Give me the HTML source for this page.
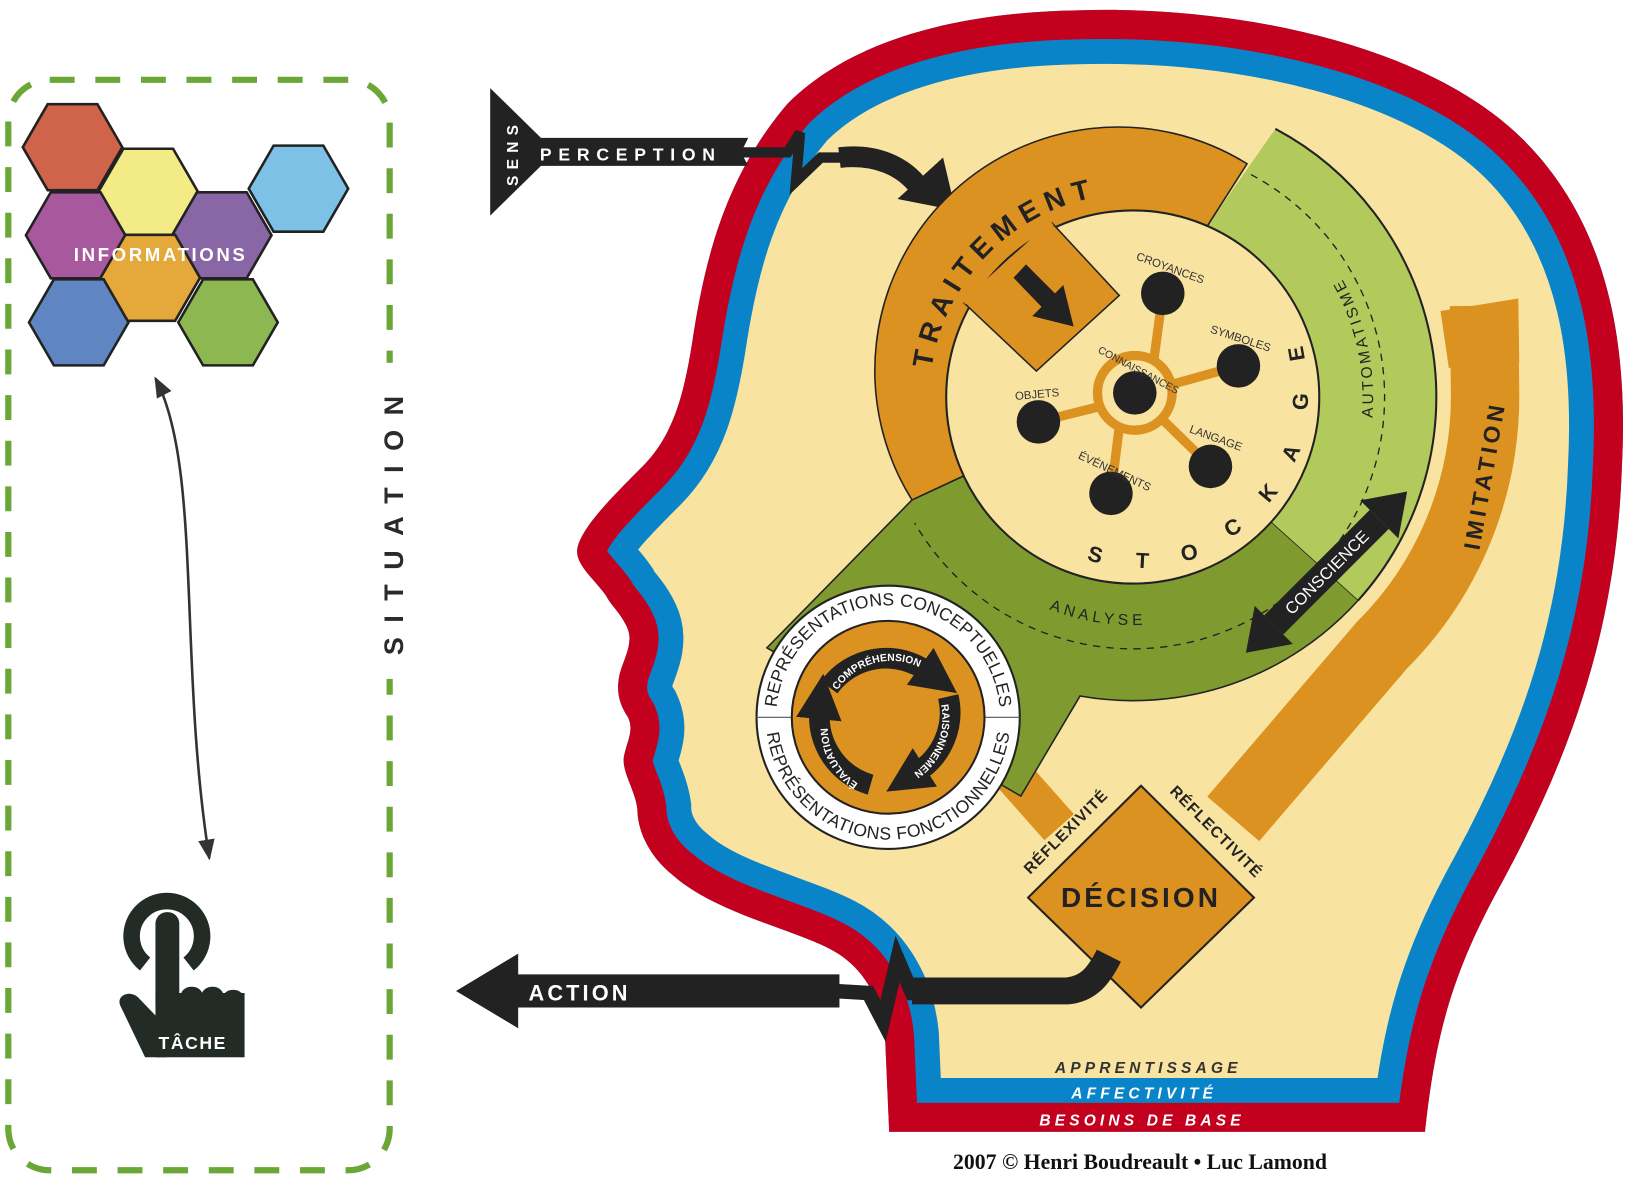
<!DOCTYPE html>
<html><head><meta charset="utf-8">
<style>
html,body{margin:0;padding:0;background:#fff;}
svg{display:block;}
text{font-family:"Liberation Sans","DejaVu Sans",sans-serif;}
</style></head>
<body>
<svg width="1625" height="1191" viewBox="0 0 1568 1149" preserveAspectRatio="none" xmlns="http://www.w3.org/2000/svg">
<defs>
<clipPath id="head"><path id="hp" d="M858,1092 L854,1000 C850,960 830,930 800,915 C760,895 690,880 650,845 C625,825 615,800 615,780 C612,760 600,745 602,730 C605,715 612,705 606,692 C598,680 594,668 598,650 C602,635 612,620 605,605 C598,590 590,585 585,575 C575,560 555,545 557,530 C560,510 590,480 620,450 C650,420 660,380 668,330 C680,250 700,170 760,100 C820,40 920,12 1040,10 C1200,5 1380,45 1470,135 C1560,225 1570,350 1565,450 C1560,600 1520,720 1450,850 C1400,940 1385,1000 1375,1092 Z"/></clipPath>
<path id="trait" d="M898.9,355.7 A196 196 0 0 1 1127,190"/>
<path id="analyse" d="M989.7,577.2 A220 220 0 0 0 1131.2,599.7"/>
<path id="autom" d="M1317.1,443 A232 232 0 0 0 1270.7,233.9"/>
<path id="rtop" d="M749,692 A108 108 0 0 1 965,692"/>
<path id="rbot" d="M739,692 A118 118 0 0 0 975,692"/>
<marker id="ah" viewBox="0 0 10 10" refX="2" refY="5" markerWidth="2.2" markerHeight="2.2" orient="auto"><path d="M0,0 L10,5 L0,10 Z" fill="#222"/></marker>
<marker id="sa" viewBox="0 0 10 10" refX="9" refY="5" markerWidth="8" markerHeight="8" orient="auto-start-reverse"><path d="M0,1 L10,5 L0,9 Z" fill="#333"/></marker>
</defs>

<!-- left dashed panel -->
<rect x="8" y="77" width="368" height="1052" rx="40" fill="none" stroke="#6aa736" stroke-width="6" stroke-dasharray="24 20"/>
<rect x="360" y="350" width="34" height="305" fill="#fff"/>
<text transform="translate(389,500) rotate(-90)" text-anchor="middle" font-size="26" font-weight="bold" letter-spacing="14" fill="#2a2a2a">SITUATION</text>

<!-- hexagons -->
<g stroke="#222" stroke-width="2.5">
<polygon transform="translate(70,142)" points="-48,0 -24,-41.5 24,-41.5 48,0 24,41.5 -24,41.5" fill="#d0644a"/>
<polygon transform="translate(143,185)" points="-48,0 -24,-41.5 24,-41.5 48,0 24,41.5 -24,41.5" fill="#f3ec86"/>
<polygon transform="translate(288,182)" points="-48,0 -24,-41.5 24,-41.5 48,0 24,41.5 -24,41.5" fill="#7dc1e6"/>
<polygon transform="translate(73,227)" points="-48,0 -24,-41.5 24,-41.5 48,0 24,41.5 -24,41.5" fill="#a8599e"/>
<polygon transform="translate(214,227)" points="-48,0 -24,-41.5 24,-41.5 48,0 24,41.5 -24,41.5" fill="#8966a5"/>
<polygon transform="translate(145,268)" points="-48,0 -24,-41.5 24,-41.5 48,0 24,41.5 -24,41.5" fill="#e5a83a"/>
<polygon transform="translate(76,311)" points="-48,0 -24,-41.5 24,-41.5 48,0 24,41.5 -24,41.5" fill="#5f86c2"/>
<polygon transform="translate(220,311)" points="-48,0 -24,-41.5 24,-41.5 48,0 24,41.5 -24,41.5" fill="#8db851"/>
</g>
<text x="155" y="252" text-anchor="middle" font-size="18" font-weight="bold" letter-spacing="2.5" fill="#fff">INFORMATIONS</text>

<!-- double arrow -->
<path d="M150,365 C195,450 172,640 202,828" fill="none" stroke="#333" stroke-width="2.5" marker-start="url(#sa)" marker-end="url(#sa)"/>

<!-- tache icon -->
<g fill="#232b27">
<path d="M140,930 A34 34 0 1 1 182,930" fill="none" stroke="#232b27" stroke-width="16"/>
<rect x="150" y="880" width="23" height="100" rx="11"/>
<rect x="150" y="958" width="86" height="62"/>
<rect x="174" y="952" width="22" height="20" rx="10"/>
<rect x="194" y="952" width="22" height="20" rx="10"/>
<rect x="214" y="955" width="22" height="20" rx="10"/>
<path d="M116,970 C112,960 125,955 133,962 L160,990 L160,1020 L140,1020 Z"/>
</g>
<text x="186" y="1012" text-anchor="middle" font-size="17" font-weight="bold" letter-spacing="1.5" fill="#fff">TÂCHE</text>

<!-- head -->
<use href="#hp" fill="#f9e3a1"/>
<g clip-path="url(#head)">
<use href="#hp" fill="none" stroke="#0a84c8" stroke-width="104"/>
<use href="#hp" fill="none" stroke="#c4001f" stroke-width="56"/>
</g>

<!-- perception -->
<polygon points="473,85 522,133 722,133 715,147 722,160 522,160 473,208" fill="#222"/>
<text transform="translate(500,147) rotate(-90)" text-anchor="middle" font-size="15" font-weight="bold" letter-spacing="6" fill="#fff">SENS</text>
<text x="521" y="155" font-size="17" font-weight="bold" letter-spacing="6.5" fill="#fff">PERCEPTION</text>
<polyline points="715,147 760,147 772,128 768,175 792,152 815,152" fill="none" stroke="#222" stroke-width="10"/>
<path d="M810,152 C845,148 872,160 888,182" fill="none" stroke="#222" stroke-width="20"/>
<polygon points="866,192 910,152 922,203" fill="#222"/>

<!-- imitation band -->
<path d="M1432,295 L1433,380 A340 340 0 0 1 1333,623 L1190,790" fill="none" stroke="#dc9220" stroke-width="66"/>
<polygon points="1390,300 1465,288 1466,350 1398,355" fill="#dc9220"/>
<text transform="translate(1440,460) rotate(-80)" text-anchor="middle" font-size="22" font-weight="bold" letter-spacing="4" fill="#222">IMITATION</text>

<!-- reflexivite bar -->
<line x1="975" y1="745" x2="1022" y2="798" stroke="#dc9220" stroke-width="38"/>

<!-- green/orange rings -->
<path d="M1310.7,579 A293 293 0 0 1 1042.1,671.5 L985,768 L740,625 L880,482.3 L929.9,459.1 A180 180 0 0 0 1226.8,503.4 Z" fill="#7f9b2f" stroke="#222" stroke-width="1.5"/>
<path d="M1230.6,124.3 A293 293 0 0 1 1310.7,579 L1226.8,503.4 A180 180 0 0 0 1165,218 Z" fill="#b2c95c"/>
<path d="M1230.6,124.3 A293 293 0 0 1 1310.7,579" fill="none" stroke="#222" stroke-width="2"/>
<path d="M880,482.3 A235 235 0 0 1 1203.3,158 L1165,218 A180 180 0 0 0 929.9,459.1 Z" fill="#dc9220" stroke="#222" stroke-width="1.5"/>
<path d="M1207.1,168.4 A243 243 0 1 1 882.6,504.5" fill="none" stroke="#222" stroke-width="1.3" stroke-dasharray="7 6"/>
<circle cx="1093" cy="383" r="180" fill="#f9e3a1" stroke="#222" stroke-width="2"/>
<!-- traitement box -->
<polygon points="930,292 1015,215 1080,285 1000,358" fill="#dc9220" stroke="#222" stroke-width="1.5"/>
<path d="M930,292 L1015,215" stroke="#dc9220" stroke-width="4"/>
<polygon points="978,268 990,255 1018,283 1026,275 1036,315 996,305 1005,296" fill="#222"/>

<text font-size="27" font-weight="bold" fill="#222"><textPath href="#trait" textLength="240" lengthAdjust="spacing">TRAITEMENT</textPath></text>
<text font-size="15" fill="#222" letter-spacing="4"><textPath href="#analyse" startOffset="50%" text-anchor="middle">ANALYSE</textPath></text>
<text font-size="15" fill="#222" letter-spacing="3"><textPath href="#autom" startOffset="50%" text-anchor="middle">AUTOMATISME</textPath></text>

<!-- stockage letters -->
<g font-size="21" font-weight="bold" fill="#222" text-anchor="middle">
<text transform="translate(1055,542) rotate(15)">S</text>
<text transform="translate(1102,548) rotate(3)">T</text>
<text transform="translate(1149,540) rotate(-12)">O</text>
<text transform="translate(1193,515) rotate(-30)">C</text>
<text transform="translate(1229,480) rotate(-50)">K</text>
<text transform="translate(1252,440) rotate(-65)">A</text>
<text transform="translate(1262,388) rotate(-85)">G</text>
<text transform="translate(1258,340) rotate(-100)">E</text>
</g>

<!-- nodes -->
<g stroke="#dc9220" stroke-width="9" fill="none">
<circle cx="1095" cy="379" r="36"/>
<path d="M1113,350 L1122,283"/><path d="M1130,371 L1195,353"/><path d="M1122,405 L1168,450"/>
<path d="M1080,412 L1072,476"/><path d="M1062,392 L1002,407"/>
</g>
<g fill="#222">
<circle cx="1095" cy="379" r="21"/>
<circle cx="1122" cy="283" r="21"/><circle cx="1195" cy="353" r="21"/><circle cx="1168" cy="450" r="21"/>
<circle cx="1072" cy="476" r="21"/><circle cx="1002" cy="407" r="21"/>
</g>
<g font-size="11" fill="#333" text-anchor="middle">
<text transform="translate(1128,262) rotate(20)">CROYANCES</text>
<text transform="translate(1196,330) rotate(18)">SYMBOLES</text>
<text transform="translate(1172,426) rotate(20)">LANGAGE</text>
<text transform="translate(1074,458) rotate(25)">ÉVÉNEMENTS</text>
<text transform="translate(1001,384) rotate(-5)">OBJETS</text>
<text transform="translate(1097,360) rotate(28)" font-size="10">CONNAISSANCES</text>
</g>

<!-- conscience arrow -->
<g transform="translate(1280,552) rotate(-45)">
<rect x="-72" y="-13" width="144" height="26" fill="#222"/>
<polygon points="72,-26 110,0 72,26" fill="#222"/>
<polygon points="-72,-26 -110,0 -72,26" fill="#222"/>
<text x="0" y="6" text-anchor="middle" font-size="16" fill="#fff">CONSCIENCE</text>
</g>

<!-- representations circle -->
<circle cx="857" cy="692" r="127" fill="#fff" stroke="#222" stroke-width="2"/>
<line x1="730" y1="692" x2="984" y2="692" stroke="#555" stroke-width="1"/>
<circle cx="857" cy="692" r="93" fill="#dc9220" stroke="#222" stroke-width="2"/>
<text font-size="17" fill="#222"><textPath href="#rtop" startOffset="50%" text-anchor="middle" textLength="320" lengthAdjust="spacing">REPRÉSENTATIONS CONCEPTUELLES</textPath></text>
<text font-size="17" fill="#222"><textPath href="#rbot" startOffset="50%" text-anchor="middle" textLength="340" lengthAdjust="spacing">REPRÉSENTATIONS FONCTIONNELLES</textPath></text>
<g fill="none" stroke="#222" stroke-width="20">
<path d="M800,663 A68 68 0 0 1 895,648" marker-end="url(#ah)"/>
<path d="M915,672 A68 68 0 0 1 885,745" marker-end="url(#ah)"/>
<path d="M840,757 A68 68 0 0 1 791,685" marker-end="url(#ah)"/>
</g>
<path id="ca" d="M808,666 A62 62 0 0 1 900,652" fill="none"/>
<path id="cb" d="M908,680 A64 64 0 0 1 884,744" fill="none"/>
<path id="cc" d="M828,756 A64 64 0 0 1 800,690" fill="none"/>
<text font-size="10" fill="#fff" font-weight="bold"><textPath href="#ca">COMPRÉHENSION</textPath></text>
<text font-size="10" fill="#fff" font-weight="bold"><textPath href="#cb">RAISONNEMENT</textPath></text>
<text font-size="10" fill="#fff" font-weight="bold"><textPath href="#cc">ÉVALUATION</textPath></text>

<!-- decision -->
<polygon points="1101,758 1210,866 1101,972 992,866" fill="#dc9220" stroke="#222" stroke-width="2"/>
<text x="1101" y="875" text-anchor="middle" font-size="27" font-weight="bold" letter-spacing="3" fill="#222">DÉCISION</text>
<text transform="translate(1032,806) rotate(-45)" text-anchor="middle" font-size="15" font-weight="bold" letter-spacing="1" fill="#222">RÉFLEXIVITÉ</text>
<text transform="translate(1170,806) rotate(45)" text-anchor="middle" font-size="15" font-weight="bold" letter-spacing="1" fill="#222">RÉFLECTIVITÉ</text>

<!-- action -->
<polygon points="440,956 500,920 500,940 810,940 810,972 500,972 500,992" fill="#222"/>
<text x="510" y="965" font-size="21" font-weight="bold" letter-spacing="3" fill="#fff">ACTION</text>
<polyline points="805,956 838,958 852,985 866,925 880,958 1030,958" fill="none" stroke="#222" stroke-width="14"/>
<path d="M880,956 L1030,956 C1050,954 1060,942 1070,922" fill="none" stroke="#222" stroke-width="26"/>

<!-- bottom labels -->
<g text-anchor="middle" font-size="15" font-weight="bold" font-style="italic" letter-spacing="4">
<text x="1108" y="1035" fill="#333">APPRENTISSAGE</text>
<text x="1104" y="1060" fill="#fff">AFFECTIVITÉ</text>
<text x="1102" y="1086" fill="#fff">BESOINS DE BASE</text>
</g>
<text x="1100" y="1128" text-anchor="middle" style="font-family:'Liberation Serif',serif;font-weight:bold" font-size="21" fill="#111">2007 © Henri Boudreault • Luc Lamond</text>
</svg>
</body></html>
